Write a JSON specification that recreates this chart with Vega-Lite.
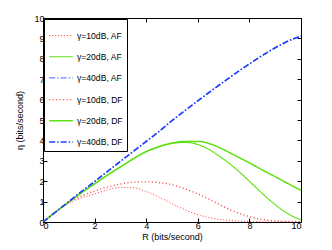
{
  "$schema": "https://vega.github.io/schema/vega-lite/v6.json",
  "width": 258,
  "height": 204,
  "autosize": "none",
  "padding": {"left": 43, "top": 18, "right": 31, "bottom": 28},
  "background": "white",
  "config": {
    "font": "Liberation Sans",
    "view": {"stroke": "#000", "strokeWidth": 1},
    "axis": {
      "grid": false,
      "domain": false,
      "tickColor": "#000",
      "tickSize": -4,
      "tickWidth": 1,
      "labelColor": "#000",
      "labelFontSize": 9,
      "labelFont": "Liberation Sans",
      "titleFont": "Liberation Sans",
      "titleFontSize": 9,
      "titleFontWeight": "normal",
      "titleColor": "#000"
    }
  },
  "datasets": {
    "d": [
      {"R":0,"eta":0,"s":"γ=10dB, AF"},{"R":0.5,"eta":0.5,"s":"γ=10dB, AF"},{"R":1,"eta":0.92,"s":"γ=10dB, AF"},{"R":1.5,"eta":1.18,"s":"γ=10dB, AF"},{"R":2,"eta":1.38,"s":"γ=10dB, AF"},{"R":2.5,"eta":1.57,"s":"γ=10dB, AF"},{"R":3,"eta":1.7,"s":"γ=10dB, AF"},{"R":3.5,"eta":1.68,"s":"γ=10dB, AF"},{"R":4,"eta":1.5,"s":"γ=10dB, AF"},{"R":4.5,"eta":1.22,"s":"γ=10dB, AF"},{"R":5,"eta":0.9,"s":"γ=10dB, AF"},{"R":5.5,"eta":0.6,"s":"γ=10dB, AF"},{"R":6,"eta":0.36,"s":"γ=10dB, AF"},{"R":6.5,"eta":0.2,"s":"γ=10dB, AF"},{"R":7,"eta":0.1,"s":"γ=10dB, AF"},{"R":7.5,"eta":0.05,"s":"γ=10dB, AF"},{"R":8,"eta":0.02,"s":"γ=10dB, AF"},{"R":8.5,"eta":0.01,"s":"γ=10dB, AF"},{"R":9,"eta":0,"s":"γ=10dB, AF"},{"R":9.5,"eta":0,"s":"γ=10dB, AF"},{"R":10,"eta":0,"s":"γ=10dB, AF"},
      {"R":0,"eta":0,"s":"γ=20dB, AF"},{"R":0.5,"eta":0.5,"s":"γ=20dB, AF"},{"R":1,"eta":0.98,"s":"γ=20dB, AF"},{"R":1.5,"eta":1.44,"s":"γ=20dB, AF"},{"R":2,"eta":1.87,"s":"γ=20dB, AF"},{"R":2.5,"eta":2.3,"s":"γ=20dB, AF"},{"R":3,"eta":2.7,"s":"γ=20dB, AF"},{"R":3.5,"eta":3.1,"s":"γ=20dB, AF"},{"R":4,"eta":3.45,"s":"γ=20dB, AF"},{"R":4.5,"eta":3.69,"s":"γ=20dB, AF"},{"R":5,"eta":3.85,"s":"γ=20dB, AF"},{"R":5.5,"eta":3.9,"s":"γ=20dB, AF"},{"R":6,"eta":3.8,"s":"γ=20dB, AF"},{"R":6.5,"eta":3.5,"s":"γ=20dB, AF"},{"R":7,"eta":3.08,"s":"γ=20dB, AF"},{"R":7.5,"eta":2.58,"s":"γ=20dB, AF"},{"R":8,"eta":2.0,"s":"γ=20dB, AF"},{"R":8.5,"eta":1.4,"s":"γ=20dB, AF"},{"R":9,"eta":0.85,"s":"γ=20dB, AF"},{"R":9.5,"eta":0.4,"s":"γ=20dB, AF"},{"R":10,"eta":0.1,"s":"γ=20dB, AF"},
      {"R":0,"eta":0,"s":"γ=40dB, AF"},{"R":0.5,"eta":0.5,"s":"γ=40dB, AF"},{"R":1,"eta":1,"s":"γ=40dB, AF"},{"R":1.5,"eta":1.5,"s":"γ=40dB, AF"},{"R":2,"eta":1.98,"s":"γ=40dB, AF"},{"R":2.5,"eta":2.48,"s":"γ=40dB, AF"},{"R":3,"eta":2.97,"s":"γ=40dB, AF"},{"R":3.5,"eta":3.46,"s":"γ=40dB, AF"},{"R":4,"eta":3.95,"s":"γ=40dB, AF"},{"R":4.5,"eta":4.44,"s":"γ=40dB, AF"},{"R":5,"eta":4.97,"s":"γ=40dB, AF"},{"R":5.5,"eta":5.46,"s":"γ=40dB, AF"},{"R":6,"eta":5.94,"s":"γ=40dB, AF"},{"R":6.5,"eta":6.41,"s":"γ=40dB, AF"},{"R":7,"eta":6.87,"s":"γ=40dB, AF"},{"R":7.5,"eta":7.32,"s":"γ=40dB, AF"},{"R":8,"eta":7.75,"s":"γ=40dB, AF"},{"R":8.5,"eta":8.16,"s":"γ=40dB, AF"},{"R":9,"eta":8.54,"s":"γ=40dB, AF"},{"R":9.5,"eta":8.87,"s":"γ=40dB, AF"},{"R":10,"eta":9.11,"s":"γ=40dB, AF"},
      {"R":0,"eta":0,"s":"γ=10dB, DF"},{"R":0.5,"eta":0.5,"s":"γ=10dB, DF"},{"R":1,"eta":0.95,"s":"γ=10dB, DF"},{"R":1.5,"eta":1.28,"s":"γ=10dB, DF"},{"R":2,"eta":1.52,"s":"γ=10dB, DF"},{"R":2.5,"eta":1.72,"s":"γ=10dB, DF"},{"R":3,"eta":1.86,"s":"γ=10dB, DF"},{"R":3.5,"eta":1.95,"s":"γ=10dB, DF"},{"R":4,"eta":1.97,"s":"γ=10dB, DF"},{"R":4.5,"eta":1.93,"s":"γ=10dB, DF"},{"R":5,"eta":1.83,"s":"γ=10dB, DF"},{"R":5.5,"eta":1.63,"s":"γ=10dB, DF"},{"R":6,"eta":1.38,"s":"γ=10dB, DF"},{"R":6.5,"eta":1.08,"s":"γ=10dB, DF"},{"R":7,"eta":0.75,"s":"γ=10dB, DF"},{"R":7.5,"eta":0.47,"s":"γ=10dB, DF"},{"R":8,"eta":0.26,"s":"γ=10dB, DF"},{"R":8.5,"eta":0.12,"s":"γ=10dB, DF"},{"R":9,"eta":0.05,"s":"γ=10dB, DF"},{"R":9.5,"eta":0.02,"s":"γ=10dB, DF"},{"R":10,"eta":0.01,"s":"γ=10dB, DF"},
      {"R":0,"eta":0,"s":"γ=20dB, DF"},{"R":0.5,"eta":0.5,"s":"γ=20dB, DF"},{"R":1,"eta":0.98,"s":"γ=20dB, DF"},{"R":1.5,"eta":1.44,"s":"γ=20dB, DF"},{"R":2,"eta":1.87,"s":"γ=20dB, DF"},{"R":2.5,"eta":2.3,"s":"γ=20dB, DF"},{"R":3,"eta":2.7,"s":"γ=20dB, DF"},{"R":3.5,"eta":3.1,"s":"γ=20dB, DF"},{"R":4,"eta":3.45,"s":"γ=20dB, DF"},{"R":4.5,"eta":3.7,"s":"γ=20dB, DF"},{"R":5,"eta":3.87,"s":"γ=20dB, DF"},{"R":5.5,"eta":3.95,"s":"γ=20dB, DF"},{"R":6,"eta":3.95,"s":"γ=20dB, DF"},{"R":6.5,"eta":3.82,"s":"γ=20dB, DF"},{"R":7,"eta":3.55,"s":"γ=20dB, DF"},{"R":7.5,"eta":3.22,"s":"γ=20dB, DF"},{"R":8,"eta":2.9,"s":"γ=20dB, DF"},{"R":8.5,"eta":2.55,"s":"γ=20dB, DF"},{"R":9,"eta":2.22,"s":"γ=20dB, DF"},{"R":9.5,"eta":1.88,"s":"γ=20dB, DF"},{"R":10,"eta":1.55,"s":"γ=20dB, DF"},
      {"R":0,"eta":0,"s":"γ=40dB, DF"},{"R":0.5,"eta":0.5,"s":"γ=40dB, DF"},{"R":1,"eta":1,"s":"γ=40dB, DF"},{"R":1.5,"eta":1.5,"s":"γ=40dB, DF"},{"R":2,"eta":1.98,"s":"γ=40dB, DF"},{"R":2.5,"eta":2.48,"s":"γ=40dB, DF"},{"R":3,"eta":2.97,"s":"γ=40dB, DF"},{"R":3.5,"eta":3.46,"s":"γ=40dB, DF"},{"R":4,"eta":3.95,"s":"γ=40dB, DF"},{"R":4.5,"eta":4.44,"s":"γ=40dB, DF"},{"R":5,"eta":4.97,"s":"γ=40dB, DF"},{"R":5.5,"eta":5.46,"s":"γ=40dB, DF"},{"R":6,"eta":5.94,"s":"γ=40dB, DF"},{"R":6.5,"eta":6.41,"s":"γ=40dB, DF"},{"R":7,"eta":6.87,"s":"γ=40dB, DF"},{"R":7.5,"eta":7.32,"s":"γ=40dB, DF"},{"R":8,"eta":7.75,"s":"γ=40dB, DF"},{"R":8.5,"eta":8.16,"s":"γ=40dB, DF"},{"R":9,"eta":8.54,"s":"γ=40dB, DF"},{"R":9.5,"eta":8.87,"s":"γ=40dB, DF"},{"R":10,"eta":9.12,"s":"γ=40dB, DF"}
    ]
  },
  "data": {"name": "d"},
  "layer": [
    {
      "mark": {"type": "line", "interpolate": "monotone", "clip": true},
      "encoding": {
        "x": {"field": "R", "type": "quantitative", "scale": {"domain": [0, 10], "nice": false},
              "axis": {"orient": "bottom", "values": [0, 2, 4, 6, 8, 10], "title": "R (bits/second)", "labelPadding": 3, "titlePadding": 2}},
        "y": {"field": "eta", "type": "quantitative", "scale": {"domain": [0, 10], "nice": false},
              "axis": {"orient": "left", "values": [0,1,2,3,4,5,6,7,8,9,10], "title": "η (bits/second)", "labelPadding": 3, "titlePadding": 9}},
        "color": {"field": "s", "type": "nominal",
          "scale": {"domain": ["γ=10dB, AF","γ=20dB, AF","γ=40dB, AF","γ=10dB, DF","γ=20dB, DF","γ=40dB, DF"],
                    "range": ["#ff3a3a","#5ee010","#7080ff","#ff3a3a","#5ee010","#2040ff"]},
          "legend": {"title": null, "orient": "none", "legendX": 1, "legendY": 1, "symbolType": "stroke", "symbolSize": 560,
                     "labelFontSize": 8.6, "labelColor": "#000", "labelFont": "Liberation Sans", "labelOffset": 3, "padding": 4, "rowPadding": 3.2,
                     "fillColor": "white", "strokeColor": "#000"}},
        "strokeDash": {"field": "s", "type": "nominal",
          "scale": {"domain": ["γ=10dB, AF","γ=20dB, AF","γ=40dB, AF","γ=10dB, DF","γ=20dB, DF","γ=40dB, DF"],
                    "range": [[1,2],[1,0],[6,2,1.5,2],[1,2.5],[1,0],[6,2,1.5,2]]}},
        "strokeWidth": {"field": "s", "type": "nominal",
          "scale": {"domain": ["γ=10dB, AF","γ=20dB, AF","γ=40dB, AF","γ=10dB, DF","γ=20dB, DF","γ=40dB, DF"],
                    "range": [1, 1.6, 1, 1.4, 3, 3]}}
      }
    },
    {
      "mark": {"type": "point", "opacity": 0},
      "encoding": {
        "x": {"field": "R", "type": "quantitative", "axis": {"orient": "top", "values": [0,2,4,6,8,10], "labels": false, "title": null}},
        "y": {"field": "eta", "type": "quantitative", "axis": {"orient": "right", "values": [0,1,2,3,4,5,6,7,8,9,10], "labels": false, "title": null}}
      }
    }
  ]
}
